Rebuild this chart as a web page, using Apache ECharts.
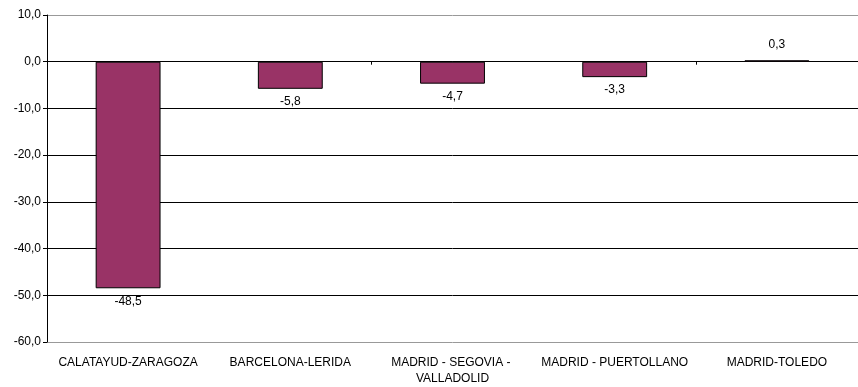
<!DOCTYPE html>
<html>
<head>
<meta charset="utf-8">
<script src="https://cdn.jsdelivr.net/npm/echarts@6/dist/echarts.min.js"></script>
<style>
  html, body { margin: 0; padding: 0; background: #fff; }
  #chart { width: 858px; height: 387px; }
</style>
</head>
<body>
<div id="chart"></div>
<script>
// Corridors and their values
const categories = [
  'CALATAYUD-ZARAGOZA',
  'BARCELONA-LERIDA',
  'MADRID - SEGOVIA - VALLADOLID',
  'MADRID - PUERTOLLANO',
  'MADRID-TOLEDO'
];
const values = [-48.5, -5.8, -4.7, -3.3, 0.3];

const yMin = -60;
const yMax = 10;
const yStep = 10;

const fmt = v => v.toFixed(1).replace('.', ',');
const FONT = 'Liberation Sans, Arial, sans-serif';

const chart = echarts.init(document.getElementById('chart'));

chart.setOption({
  animation: false,
  backgroundColor: '#ffffff',
  grid: { left: 47, right: -10, top: 15, bottom: 44, containLabel: false },
  xAxis: [
    {
      type: 'category',
      data: categories,
      position: 'bottom',
      axisLine: { show: false, onZero: false },
      axisTick: { show: false },
      axisLabel: {
        color: '#000',
        fontFamily: FONT,
        fontSize: 12,
        margin: 13,
        lineHeight: 16,
        interval: 0,
        width: 150,
        overflow: 'break'
      }
    },
    {
      // zero line with category separators
      type: 'category',
      data: categories,
      position: 'top',
      axisLine: { show: true, onZero: true, lineStyle: { color: '#000', width: 1 } },
      axisTick: { show: true, inside: true, length: 3, lineStyle: { color: '#000' } },
      axisLabel: { show: false }
    }
  ],
  yAxis: {
    type: 'value',
    min: yMin,
    max: yMax,
    interval: yStep,
    axisLine: { show: true, lineStyle: { color: '#000', width: 1 } },
    axisTick: { show: true, length: 4, lineStyle: { color: '#000' } },
    axisLabel: {
      color: '#000',
      fontFamily: FONT,
      fontSize: 12,
      margin: 6,
      formatter: v => fmt(v)
    },
    splitLine: {
      show: true,
      lineStyle: {
        color: ['#999', '#000', '#000', '#000', '#000', '#000', '#000', '#999'],
        width: 1
      }
    }
  },
  series: [{
    type: 'bar',
    xAxisIndex: 0,
    data: values.map(v => ({
      value: v,
      label: { position: v < 0 ? 'bottom' : 'top', distance: v < 0 ? 7 : 10 }
    })),
    barWidth: '40%',
    itemStyle: { color: '#993366', borderColor: '#000', borderWidth: 1 },
    label: {
      show: true,
      color: '#000',
      fontFamily: FONT,
      fontSize: 12,
      formatter: p => fmt(p.value)
    }
  }]
});
</script>
</body>
</html>
